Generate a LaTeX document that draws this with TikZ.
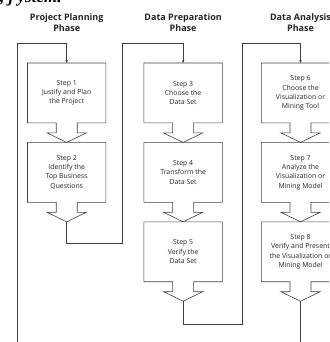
\documentclass[tikz,border=0pt]{standalone}
\usepackage{fontspec}
\setmainfont{Open Sans}
\newfontfamily\capfont{Liberation Serif}
\usepackage{tikz}
\usetikzlibrary{arrows.meta, positioning}

\begin{document}
\begin{tikzpicture}[
  x=1pt, y=1pt,
  line/.style={draw=black!75, line width=0.6pt},
  box/.style={
    align=center,
    inner sep=2pt,
    minimum height=59.5pt,
    minimum width=78pt,
    text=black!85,
    font=\fontsize{6.9}{9.3}\selectfont
  },
  title/.style={
    align=center,
    inner sep=0pt,
    text=black!85,
    font=\fontsize{9}{11}\selectfont\bfseries
  },
  arrow/.style={line, -{Stealth[length=3pt, width=2.6pt]}}
]
\useasboundingbox (0,0) rectangle (329,342);
\clip (0,0) rectangle (329,342);

% caption fragment, cut by the page edge
\node[anchor=base west, inner sep=0pt, font=\capfont\fontsize{17}{17}\selectfont\bfseries\itshape]
  (caption) at (0,339.5) {, j ystem.};

% ================= Project planning =================
\node[box] (s1) at (66.7,249) {Step 1\\Justify and Plan\\the Project};
\node[box, below=19.5pt of s1] (s2)
  {Step 2\\Identify the\\Top Business\\Questions};

% ================= Data preparation =================
\node[box, right=38pt of s1] (s3) {Step 3\\Choose the\\Data Set};
\node[box, below=19.5pt of s3] (s4) {Step 4\\Transform the\\Data Set};
\node[box, below=19.5pt of s4] (s5) {Step 5\\Verify the\\Data Set};

% ================= Data analysis =================
\node[box, right=39pt of s3] (s6)
  {Step 6\\Choose the\\Visualization or\\Mining Tool};
\node[box, below=19.5pt of s6] (s7)
  {Step 7\\Analyze the\\Visualization or\\Mining Model};
\node[box, below=19.5pt of s7] (s8)
  {Step 8\\Verify and Present\\the Visualization or\\Mining Model};

% box outlines with the arrow at the bottom
\foreach \b in {s1,s2,s3,s4,s5,s6,s7,s8}
  \draw[line] (\b.south east) -- (\b.north east) -- (\b.north west)
    -- (\b.south west) -- ([xshift=-10.5pt]\b.south) -- ++(0,-10)
    -- ++(-9,0) -- ++(19.5,-9.5) coordinate (\b-tip) -- ++(19.5,9.5)
    -- ++(-9,0) -- ++(0,10) -- (\b.south east);

% phase titles
\coordinate[above=20pt of s1.north] (top1);
\coordinate[above=20pt of s3.north] (top3);
\coordinate[above=20pt of s6.north] (top6);

\node[title] (plan_title) at ([yshift=20.5pt]top1) {Project Planning\\Phase};
\node[title] (prep_title) at ([yshift=20.5pt]top3) {Data Preparation\\Phase};
\node[title] (anal_title) at ([yshift=20.5pt]top6) {Data Analysis\\Phase};

% loops between the phases
\coordinate (in1) at (17,-5);
\coordinate (gap1) at (122,98.7);
\coordinate (gap2) at (242,18);
\coordinate (out3) at (s8-tip |- in1);

\draw[arrow] (in1) |- (top1) -- (s1.north);
\draw[arrow] (s2-tip) |- (gap1) |- (top3) -- (s3.north);
\draw[arrow] (s5-tip) |- (gap2) |- (top6) -- (s6.north);
\draw[line] (s8-tip) -- (out3);

\end{tikzpicture}
\end{document}
